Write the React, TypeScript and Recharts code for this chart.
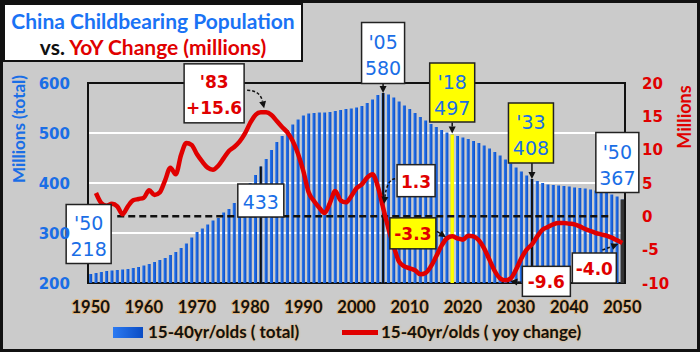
import React from 'react';
import {
  ComposedChart,
  Bar,
  Line,
  XAxis,
  YAxis,
  CartesianGrid,
  ReferenceLine,
  ReferenceDot,
  ReferenceArea,
} from 'recharts';

// categories
const years = [
  1950, 1951, 1952, 1953, 1954, 1955, 1956, 1957, 1958, 1959,
  1960, 1961, 1962, 1963, 1964, 1965, 1966, 1967, 1968, 1969,
  1970, 1971, 1972, 1973, 1974, 1975, 1976, 1977, 1978, 1979,
  1980, 1981, 1982, 1983, 1984, 1985, 1986, 1987, 1988, 1989,
  1990, 1991, 1992, 1993, 1994, 1995, 1996, 1997, 1998, 1999,
  2000, 2001, 2002, 2003, 2004, 2005, 2006, 2007, 2008, 2009,
  2010, 2011, 2012, 2013, 2014, 2015, 2016, 2017, 2018, 2019,
  2020, 2021, 2022, 2023, 2024, 2025, 2026, 2027, 2028, 2029,
  2030, 2031, 2032, 2033, 2034, 2035, 2036, 2037, 2038, 2039,
  2040, 2041, 2042, 2043, 2044, 2045, 2046, 2047, 2048, 2049,
  2050,
];

// 15-40 yr olds, total (millions)
const totalPop = [
  218, 220, 222, 224, 225, 226, 227, 228, 230, 232,
  235, 238, 242, 246, 250, 256, 262, 270, 279, 291,
  302, 309, 317, 325, 330, 341, 348, 360, 372, 386,
  400, 416, 433, 448, 466, 482, 494, 506, 517, 527,
  535, 539, 540, 541, 541, 542, 544, 546, 548, 549,
  551, 554, 560, 567, 576, 580, 577, 571, 563, 555,
  548, 540, 532, 525, 518, 512, 506, 501, 497, 494,
  491, 488, 484, 480, 475, 469, 462, 455, 447, 439,
  431, 423, 415, 408, 404, 400, 397, 396, 395, 394,
  393, 391, 390, 389, 387, 385, 383, 380, 377, 373,
  367,
];

// 15-40 yr olds, yoy change (millions)
const yoyChange = [
  null, 3.5, 2.0, 1.6, 1.9, 1.5, 0.3, 1.5, 2.4, 2.6,
  2.8, 3.9, 3.2, 3.6, 5.4, 7.3, 6.3, 9.2, 11.0, 10.7,
  9.3, 8.2, 7.3, 7.0, 7.6, 8.7, 9.8, 10.4, 11.2, 12.4,
  14.0, 15.2, 15.6, 15.6, 15.2, 14.3, 13.4, 12.6, 11.3, 9.4,
  6.8, 3.6, 2.3, 1.3, 0.5, 2.0, 3.8, 2.4, 2.1, 3.0,
  4.2, 4.8, 5.8, 6.3, 4.5, 1.3, -1.8, -4.5, -6.8, -7.5,
  -7.8, -8.1, -8.7, -8.5, -7.5, -6.0, -4.4, -3.3, -3.0, -3.3,
  -3.5, -2.9, -3.0, -3.6, -4.8, -6.5, -8.2, -9.3, -9.6, -9.3,
  -8.0, -6.3, -5.0, -4.2, -3.0, -2.0, -1.6, -1.2, -1.0, -1.0,
  -1.1, -1.2, -1.5, -1.9, -2.2, -2.5, -2.7, -2.9, -3.2, -3.6,
  -4.0,
];

const leftTicks = [200, 300, 400, 500, 600];
const rightTicks = [-10, -5, 0, 5, 10, 15, 20];

const totalName = '15-40yr/olds ( total)';
const yoyName = '15-40yr/olds ( yoy change)';

const data = years.map((year, i) => ({ year, total: totalPop[i], yoy: yoyChange[i] }));

const BLUE = '#1a6ee6';
const RED = '#e00000';
const YELLOW = '#ffff00';

// callout boxes: anchor in data space, box placed relative to the anchor point
const callouts = [
  { id: 'c50a', year: 1950, value: 218, axis: 'left', lines: ["'50", '218'], color: BLUE, fill: '#fff', dx: -2, dy: -40, w: 45, h: 59 },
  { id: 'c82', year: 1982, value: 433, axis: 'left', lines: ['433'], color: BLUE, fill: '#fff', dx: 0, dy: 34, w: 46, h: 33 },
  { id: 'c05', year: 2005, value: 580, axis: 'left', lines: ["'05", '580'], color: BLUE, fill: '#fff', dx: 0, dy: -40, w: 43, h: 61, arrow: { x1: 0, y1: -9, x2: 0, y2: 0 } },
  { id: 'c18', year: 2018, value: 497, axis: 'left', lines: ["'18", '497'], color: BLUE, fill: YELLOW, dx: 0, dy: -42, w: 45, h: 59, arrow: { x1: 0, y1: -12, x2: 0, y2: -1 } },
  { id: 'c33', year: 2033, value: 408, axis: 'left', lines: ["'33", '408'], color: BLUE, fill: YELLOW, dx: -1, dy: -46, w: 45, h: 60, arrow: { x1: 0, y1: -16, x2: 0, y2: 0 } },
  { id: 'c50b', year: 2050, value: 367, axis: 'left', lines: ["'50", '367'], color: BLUE, fill: '#fff', dx: -5, dy: -37, w: 43, h: 60 },
  { id: 'y83', year: 1983, value: 15.6, axis: 'right', lines: ["'83", '+15.6'], color: RED, bold: true, fill: '#fff', dx: -52, dy: -19, w: 60, h: 59, arrow: { x1: -19, y1: -22, x2: -2, y2: -4, qx: -6, qy: -22, dashed: true } },
  { id: 'y05', year: 2005, value: 1.3, axis: 'right', lines: ['1.3'], color: RED, bold: true, fill: '#fff', dx: 33, dy: -27, w: 38, h: 32, arrow: { x1: 12, y1: -29, x2: 1, y2: -4, qx: 4, qy: -28, dashed: true } },
  { id: 'y17', year: 2017, value: -3.3, axis: 'right', lines: ['-3.3'], color: RED, bold: true, fill: YELLOW, dx: -34, dy: -5, w: 46, h: 31, arrow: { x1: -10, y1: -7, x2: -1, y2: -1 } },
  { id: 'y28', year: 2028, value: -9.6, axis: 'right', lines: ['-9.6'], color: RED, bold: true, fill: '#fff', dx: 41, dy: 1, w: 48, h: 30, arrow: { x1: 16, y1: 2, x2: 5, y2: 1 } },
  { id: 'y50', year: 2050, value: -4.0, axis: 'right', lines: ['-4.0'], color: RED, bold: true, fill: '#fff', dx: -28, dy: 25, w: 44, h: 30, arrow: { x1: -20, y1: 7, x2: -4, y2: 1, dashed: true } },
];

// vertical marker lines from a bar top down to the axis floor
const markers = [
  { year: 1982, value: 433, color: '#111', width: 2 },
  { year: 2005, value: 580, color: '#111', width: 2 },
  { year: 2018, value: 497, color: YELLOW, width: 3.5 },
  { year: 2033, value: 408, color: '#111', width: 2 },
  { year: 2050, value: 367, color: '#333', width: 3.5 },
];

const Arrow = ({ cx, cy, a }: any) => {
  const x1 = cx + a.x1, y1 = cy + a.y1, x2 = cx + a.x2, y2 = cy + a.y2;
  const fromX = a.qx != null ? cx + a.qx : x1;
  const fromY = a.qy != null ? cy + a.qy : y1;
  const ang = Math.atan2(y2 - fromY, x2 - fromX);
  const len = 7, half = 3.5;
  const bx = x2 - len * Math.cos(ang), by = y2 - len * Math.sin(ang);
  const px = -Math.sin(ang) * half, py = Math.cos(ang) * half;
  const d = a.qx != null ? `M${x1},${y1} Q${cx + a.qx},${cy + a.qy} ${bx},${by}` : `M${x1},${y1} L${bx},${by}`;
  return (
    <g>
      <path d={d} fill="none" stroke="#111" strokeWidth={1.5} strokeDasharray={a.dashed ? '3 2' : undefined} />
      <polygon points={`${x2},${y2} ${bx + px},${by + py} ${bx - px},${by - py}`} fill="#111" />
    </g>
  );
};

const makeCallout = (c: any) => (props: any) => {
  const { cx, cy } = props;
  const bx = cx + c.dx, by = cy + c.dy;
  const two = c.lines.length > 1;
  return (
    <g>
      {c.arrow && <Arrow cx={cx} cy={cy} a={c.arrow} />}
      <rect x={bx - c.w / 2} y={by - c.h / 2} width={c.w} height={c.h} fill={c.fill} stroke="#222" strokeWidth={1.5} />
      {c.lines.map((t: string, i: number) => (
        <text
          key={i}
          x={bx}
          y={two ? (i === 0 ? by - 11 : by + 15) : by + 1}
          textAnchor="middle"
          dominantBaseline="central"
          fontFamily="'DejaVu Sans', sans-serif"
          fontSize={c.bold ? 17 : 19}
          fontWeight={c.bold ? 700 : 400}
          fill={c.color}
        >
          {t}
        </text>
      ))}
    </g>
  );
};

const XTick = (props: any) => {
  const { x, payload } = props;
  return (
    <text
      x={x}
      y={313}
      textAnchor="middle"
      fontFamily="Lato, sans-serif"
      fontWeight={700}
      fontSize={16.5}
      fill="#111"
      stroke="#f2a23a"
      strokeOpacity={0.55}
      strokeWidth={2}
      paintOrder="stroke"
      strokeLinejoin="round"
    >
      {payload.value}
    </text>
  );
};

const LeftTick = (props: any) => {
  const { x, y, payload } = props;
  return (
    <text x={x - 18} y={y} dy={5.5} textAnchor="end" fontFamily="'DejaVu Sans', sans-serif" fontWeight={700} fontSize={15} fill={BLUE}>
      {payload.value}
    </text>
  );
};

const RightTick = (props: any) => {
  const { x, y, payload } = props;
  return (
    <text x={x + 17} y={y} dy={5.5} textAnchor="start" fontFamily="'DejaVu Sans', sans-serif" fontWeight={700} fontSize={15} fill={RED}>
      {payload.value}
    </text>
  );
};

const App: React.FC = () => {
  return (
    <div style={{ position: 'absolute', left: 0, top: 0, width: 700, height: 352, background: '#cbcbcb', overflow: 'hidden' }}>
      <div style={{ position: 'absolute', left: 0, top: 0 }}>
        <ComposedChart width={700} height={352} data={data} margin={{ top: 83, right: 0, bottom: 39, left: 0 }} barCategoryGap="22%">
          <defs>
            <linearGradient id="barGrad" x1="0" y1="0" x2="1" y2="0">
              <stop offset="0%" stopColor="#2b7af2" />
              <stop offset="100%" stopColor="#0a4cc4" />
            </linearGradient>
          </defs>
          <CartesianGrid yAxisId="left" vertical={false} stroke="#ffffff" strokeWidth={2} />
          <XAxis dataKey="year" interval={9} tickLine={false} axisLine={false} tickSize={0} tickMargin={0} height={30} tick={XTick} />
          <YAxis yAxisId="left" domain={[200, 600]} ticks={leftTicks} width={88} tickLine={false} axisLine={false} tickSize={0} tickMargin={0} tick={LeftTick} />
          <YAxis yAxisId="right" orientation="right" domain={[-10, 20]} ticks={rightTicks} width={75} tickLine={false} axisLine={false} tickSize={0} tickMargin={0} tick={RightTick} />
          <Bar yAxisId="left" dataKey="total" name={totalName} fill="url(#barGrad)" isAnimationActive={false} />
          {markers.map((m) => (
            <ReferenceLine
              key={m.year}
              yAxisId="left"
              segment={[{ x: m.year, y: m.value }, { x: m.year, y: 200 }]}
              stroke={m.color}
              strokeWidth={m.width}
            />
          ))}
          <ReferenceLine
            yAxisId="right"
            segment={[{ x: 1955, y: 0 }, { x: 2048, y: 0 }]}
            stroke="#111"
            strokeWidth={2.5}
            strokeDasharray="7 4"
          />
          <ReferenceArea yAxisId="left" x1={1950} x2={2050} y1={200} y2={600} fill="none" fillOpacity={0} stroke="#111" strokeWidth={2} />
          <Line
            yAxisId="right"
            type="monotone"
            dataKey="yoy"
            name={yoyName}
            stroke={RED}
            strokeWidth={4.5}
            dot={false}
            connectNulls
            isAnimationActive={false}
          />
          {callouts.map((c) => (
            <ReferenceDot key={c.id} yAxisId={c.axis} x={c.year} y={c.value} r={0} shape={makeCallout(c)} />
          ))}
        </ComposedChart>
      </div>

      {/* title */}
      <div
        style={{
          position: 'absolute', left: 3, top: 3, width: 300, height: 59, boxSizing: 'border-box',
          border: '2px solid #111', background: '#fff', paddingTop: 3, textAlign: 'center',
          fontFamily: 'Lato, sans-serif', fontWeight: 700, fontSize: 21, lineHeight: '26px',
        }}
      >
        <div style={{ color: '#1a73f5' }}>China Childbearing Population</div>
        <div>
          <span style={{ color: '#111' }}>vs. </span>
          <span style={{ color: RED }}>YoY Change (millions)</span>
        </div>
      </div>

      {/* axis titles */}
      <div
        style={{
          position: 'absolute', left: 18, top: 129, transform: 'translate(-50%, -50%) rotate(-90deg)',
          whiteSpace: 'nowrap', fontFamily: 'Lato, sans-serif', fontWeight: 700, fontSize: 17, color: BLUE,
        }}
      >
        Millions (total)
      </div>
      <div
        style={{
          position: 'absolute', left: 684, top: 117, transform: 'translate(-50%, -50%) rotate(-90deg)',
          whiteSpace: 'nowrap', fontFamily: 'Lato, sans-serif', fontWeight: 700, fontSize: 18, color: RED,
        }}
      >
        Millions
      </div>

      {/* legend */}
      <div style={{ position: 'absolute', left: 113, top: 327, width: 30, height: 11, background: 'linear-gradient(90deg, #2b7af2, #0a4cc4)' }} />
      <div
        style={{
          position: 'absolute', left: 148, top: 321, lineHeight: '22px', whiteSpace: 'nowrap',
          fontFamily: 'Lato, sans-serif', fontWeight: 700, fontSize: 17, color: '#111', textShadow: '0 0 2px #f2a23a',
        }}
      >
        {totalName}
      </div>
      <div style={{ position: 'absolute', left: 342, top: 330, width: 36, height: 5, background: RED }} />
      <div
        style={{
          position: 'absolute', left: 381, top: 321, lineHeight: '22px', whiteSpace: 'nowrap',
          fontFamily: 'Lato, sans-serif', fontWeight: 700, fontSize: 17, color: '#111', textShadow: '0 0 2px #f2a23a',
        }}
      >
        {yoyName}
      </div>

      {/* outer frame */}
      <div style={{ position: 'absolute', left: 0, top: 0, width: 700, height: 352, boxSizing: 'border-box', border: '3px solid #111', pointerEvents: 'none' }} />
    </div>
  );
};

export default App;
